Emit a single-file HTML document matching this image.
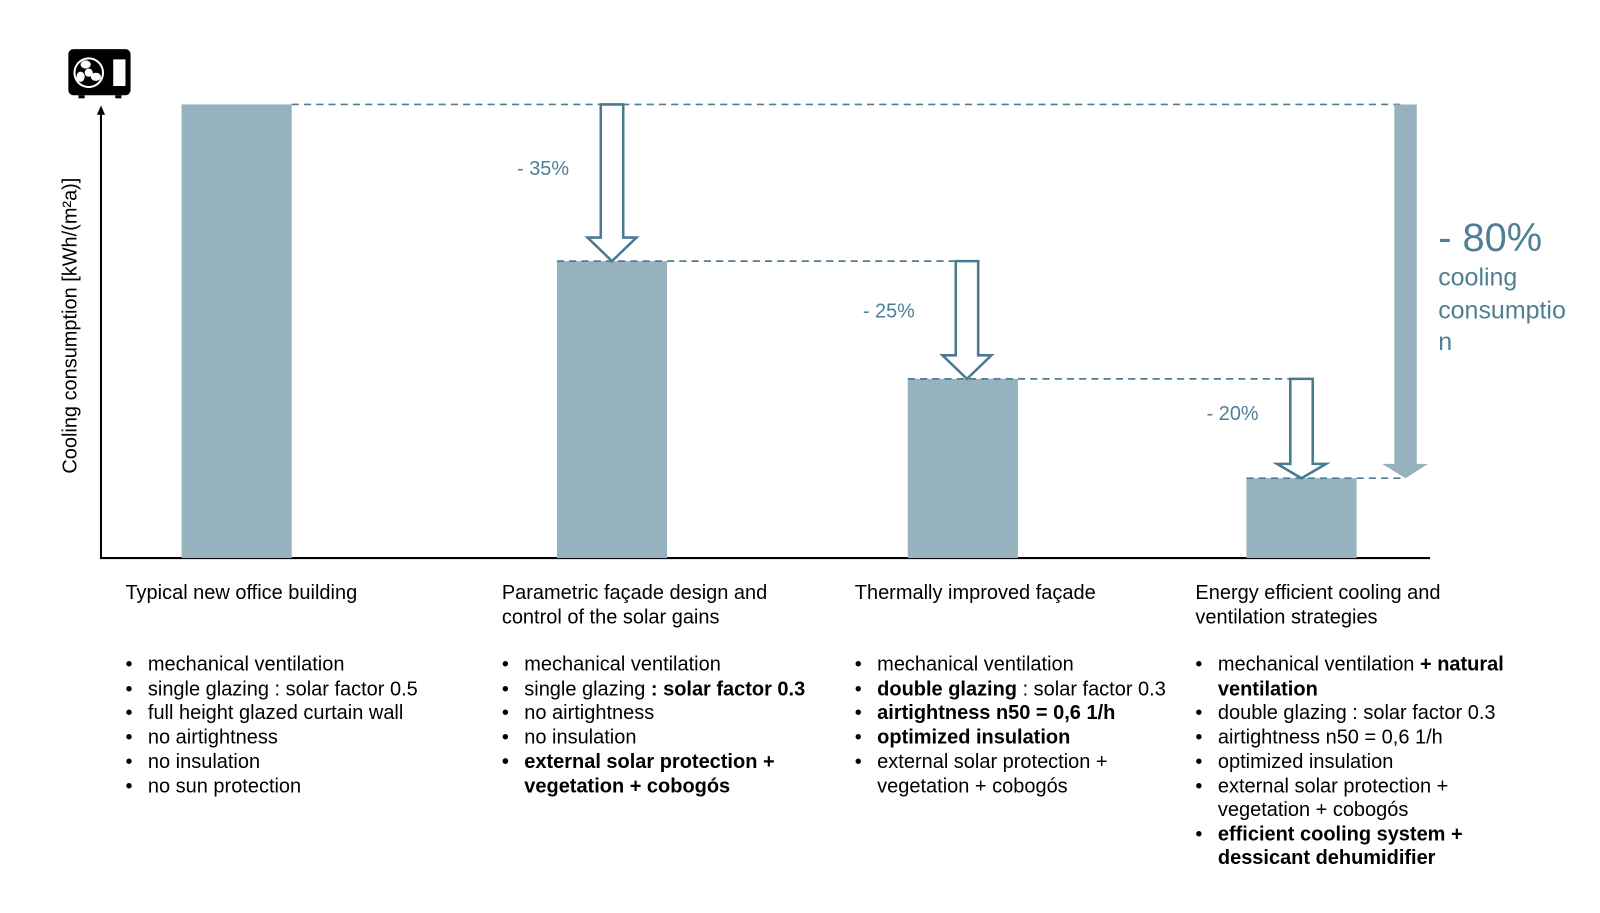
<!DOCTYPE html>
<html><head><meta charset="utf-8"><style>
body{margin:0;background:#fff;width:1600px;height:908px;overflow:hidden;font-family:"Liberation Sans",sans-serif;}
svg text{font-family:"Liberation Sans",sans-serif;}
</style></head><body>
<svg width="1600" height="908" xmlns="http://www.w3.org/2000/svg">
<g transform="scale(1.02,1.024)">
<!-- icon -->
<rect x="67" y="48" width="61" height="45" rx="5" fill="#000"/>
<rect x="77" y="93" width="6" height="3" fill="#000"/><rect x="113" y="93" width="6" height="3" fill="#000"/>
<circle cx="87" cy="71" r="15" fill="#fff"/><circle cx="87" cy="71" r="13" fill="#000"/>
<circle cx="87" cy="71" r="4" fill="#fff"/>
<ellipse cx="84" cy="63" rx="5" ry="4" fill="#fff"/><ellipse cx="79" cy="75" rx="4" ry="5" fill="#fff"/><ellipse cx="94" cy="75" rx="5" ry="4" fill="#fff"/>
<rect x="111" y="58" width="12" height="26" fill="#fff"/>
<!-- axes -->
<line x1="99" y1="108" x2="99" y2="545" stroke="#000" stroke-width="2"/>
<polygon points="99,103 95,112 103,112" fill="#000"/>
<line x1="98" y1="545" x2="1402" y2="545" stroke="#000" stroke-width="2"/>
<text transform="translate(75,318) rotate(-90)" text-anchor="middle" font-size="19.5" fill="#000">Cooling consumption [kWh/(m²a)]</text>
<!-- bars -->
<g fill="#96b2bf">
<rect x="178" y="102" width="108" height="443"/>
<rect x="546" y="255" width="108" height="290"/>
<rect x="890" y="370" width="108" height="175"/>
<rect x="1222" y="467" width="108" height="78"/>
</g>
<!-- dashed -->
<g stroke="#4f7f96" stroke-width="1.6" stroke-dasharray="7,5" fill="none">
<line x1="286" y1="102" x2="1378" y2="102"/>
<line x1="546" y1="255" x2="948" y2="255"/>
<line x1="890" y1="370" x2="1276" y2="370"/>
<line x1="1222" y1="467" x2="1378" y2="467"/>
</g>
<!-- hollow arrows -->
<g fill="#fff" stroke="#4a7a90" stroke-width="2.5" stroke-linejoin="miter">
<polygon points="589,102 611,102 611,232 624,232 600,255 576,232 589,232"/>
<polygon points="937,255 959,255 959,347 972,347 948,370 924,347 937,347"/>
<polygon points="1265,370 1287,370 1287,453 1300,453 1276,467 1252,453 1265,453"/>
</g>
<polygon points="1367,102 1389,102 1389,453 1400,453 1378,467 1355,453 1367,453" fill="#96b2bf"/>
<g fill="#4f7f96" font-size="19.5">
<text x="507" y="171">- 35%</text>
<text x="846" y="310">- 25%</text>
<text x="1183" y="410">- 20%</text>
<text x="1410" y="245" font-size="39">- 80%</text>
<text x="1410" y="279" font-size="24.5">cooling</text>
<text x="1410" y="311" font-size="24.5">consumptio</text>
<text x="1410" y="342" font-size="24.5">n</text>
</g>
<g font-size="19.6" fill="#000">
<text x="123" y="585">Typical new office building</text>
<text x="492" y="585">Parametric façade design and</text>
<text x="492" y="609">control of the solar gains</text>
<text x="838" y="585">Thermally improved façade</text>
<text x="1172" y="585">Energy efficient cooling and</text>
<text x="1172" y="609">ventilation strategies</text>
</g>
<g font-size="19.6" fill="#000" transform="translate(0,-3)">
<g>
<text x="123" y="658">•</text><text x="145" y="658">mechanical ventilation</text>
<text x="123" y="682">•</text><text x="145" y="682">single glazing : solar factor 0.5</text>
<text x="123" y="705">•</text><text x="145" y="705">full height glazed curtain wall</text>
<text x="123" y="729">•</text><text x="145" y="729">no airtightness</text>
<text x="123" y="753">•</text><text x="145" y="753">no insulation</text>
<text x="123" y="777">•</text><text x="145" y="777">no sun protection</text>
</g>
<g>
<text x="492" y="658">•</text><text x="514" y="658">mechanical ventilation</text>
<text x="492" y="682">•</text><text x="514" y="682">single glazing <tspan font-weight="bold">: solar factor 0.3</tspan></text>
<text x="492" y="705">•</text><text x="514" y="705">no airtightness</text>
<text x="492" y="729">•</text><text x="514" y="729">no insulation</text>
<text x="492" y="753" font-weight="bold">•</text><text x="514" y="753" font-weight="bold">external solar protection +</text>
<text x="514" y="777" font-weight="bold">vegetation + cobogós</text>
</g>
<g>
<text x="838" y="658">•</text><text x="860" y="658">mechanical ventilation</text>
<text x="838" y="682">•</text><text x="860" y="682"><tspan font-weight="bold">double glazing</tspan> : solar factor 0.3</text>
<text x="838" y="705">•</text><text x="860" y="705" font-weight="bold">airtightness n50 = 0,6 1/h</text>
<text x="838" y="729">•</text><text x="860" y="729" font-weight="bold">optimized insulation</text>
<text x="838" y="753">•</text><text x="860" y="753">external solar protection +</text>
<text x="860" y="777">vegetation + cobogós</text>
</g>
<g>
<text x="1172" y="658">•</text><text x="1194" y="658">mechanical ventilation <tspan font-weight="bold">+ natural</tspan></text>
<text x="1194" y="682" font-weight="bold">ventilation</text>
<text x="1172" y="705">•</text><text x="1194" y="705">double glazing : solar factor 0.3</text>
<text x="1172" y="729">•</text><text x="1194" y="729">airtightness n50 = 0,6 1/h</text>
<text x="1172" y="753">•</text><text x="1194" y="753">optimized insulation</text>
<text x="1172" y="777">•</text><text x="1194" y="777">external solar protection +</text>
<text x="1194" y="800">vegetation + cobogós</text>
<text x="1172" y="824">•</text><text x="1194" y="824" font-weight="bold">efficient cooling system +</text>
<text x="1194" y="847" font-weight="bold">dessicant dehumidifier</text>
</g>
</g>
</g>
</svg>
</body></html>
